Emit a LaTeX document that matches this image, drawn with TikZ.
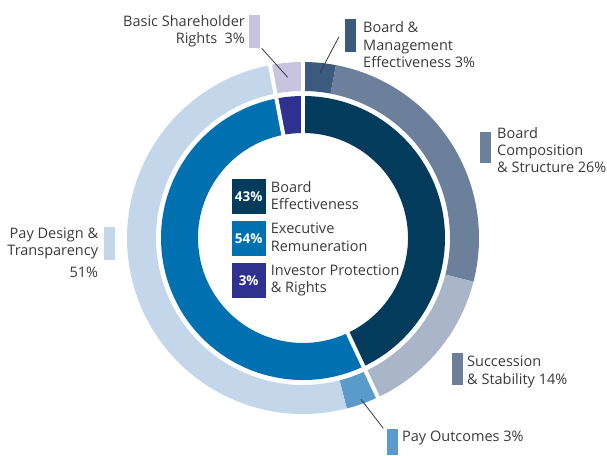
\documentclass[tikz,border=0pt]{standalone}
\usepackage{fontspec}
\setmainfont{Open Sans}
\definecolor{cBM}{HTML}{3B5A7D}
\definecolor{cBC}{HTML}{6C809C}
\definecolor{cSS}{HTML}{AAB5C8}
\definecolor{cPO}{HTML}{5B9BCC}
\definecolor{cPD}{HTML}{C4D7EA}
\definecolor{cBS}{HTML}{C8C4E0}
\definecolor{cIB}{HTML}{023B5C}
\definecolor{cIE}{HTML}{0070B0}
\definecolor{cII}{HTML}{2F3190}
\definecolor{txt}{HTML}{3A3A3A}
\newcommand\ringseg[5]{\fill[#1] (#2:#4) arc[start angle=#2, end angle=#3, radius=#4] -- (#3:#5) arc[start angle=#3, end angle=#2, radius=#5] -- cycle;}
\tikzset{
  lbl/.style={text=txt, font=\fontsize{14.5}{17.5}\selectfont, inner sep=0pt},
  swatch/.style={inner sep=0pt, minimum width=11pt},
  pbox/.style={inner sep=0pt, minimum width=34pt, minimum height=35pt, text=white, font=\bfseries\fontsize{13.5}{16}\selectfont},
  leader/.style={draw=txt, line width=0.8pt},
  gap/.style={draw=white, line width=4pt}
}
\begin{document}
\begin{tikzpicture}[x=1pt,y=1pt]
\useasboundingbox (-303,-217) rectangle (304,238);
% outer ring
\ringseg{cBM}{90}{79.2}{176}{147}
\ringseg{cBC}{79.2}{-14.4}{176}{147}
\ringseg{cSS}{-14.4}{-64.8}{176}{147}
\ringseg{cPO}{-64.8}{-75.6}{176}{147}
\ringseg{cPD}{-75.6}{-259.2}{176}{147}
\ringseg{cBS}{-259.2}{-270}{176}{147}
% inner ring
\ringseg{cIB}{90}{-64.8}{142}{105}
\ringseg{cIE}{-64.8}{-259.2}{142}{105}
\ringseg{cII}{-259.2}{-270}{142}{105}
% gaps
\draw[gap] (90:100) -- (90:180);
\draw[gap] (-64.8:100) -- (-64.8:180);
\draw[gap] (100.8:100) -- (100.8:180);
% centre legend
\node[pbox, fill=cIB] (b1) at (-54.3,41.2) {43\%};
\node[pbox, fill=cIE] (b2) at (-54.3,-0.35) {54\%};
\node[pbox, fill=cII] (b3) at (-54.3,-42.35) {3\%};
\node[lbl, anchor=base west, align=left] (t1) at (-32.3,28.5) {Board\\Effectiveness};
\node[lbl, anchor=base west, align=left] (t2) at (-32.3,-13.2) {Executive\\Remuneration};
\node[lbl, anchor=base west, align=left] (t3) at (-32.3,-54.7) {Investor Protection\\\& Rights};
% outer labels
\node[swatch, fill=cBS, minimum height=32.7pt] (sBS) at (-48.5,206.65) {};
\node[lbl, anchor=base east, align=right] (lBS) at (-58,194) {Basic Shareholder\\Rights\enspace 3\%};
\node[swatch, fill=cBM, minimum height=32.7pt] (sBM) at (47.5,202.65) {};
\node[lbl, anchor=base west, align=left] (lBM) at (60,170) {Board \&\\Management\\Effectiveness 3\%};
\node[swatch, fill=cBC, minimum height=31.6pt] (sBC) at (182.5,90.5) {};
\node[lbl, anchor=base west, align=left] (lBC) at (194,65) {Board\\Composition\\\& Structure 26\%};
\node[swatch, fill=cBC, minimum height=32.3pt] (sSS) at (154.5,-130.85) {};
\node[lbl, anchor=base west, align=left] (lSS) at (164,-146) {Succession\\\& Stability 14\%};
\node[swatch, fill=cPO, minimum height=26pt] (sPO) at (89.2,-204) {};
\node[lbl, anchor=base west] (lPO) at (99,-203.7) {Pay Outcomes 3\%};
\node[swatch, fill=cPD, minimum height=33.3pt] (sPD) at (-193.5,-5.35) {};
\node[lbl, anchor=base east, align=right] (lPD) at (-204.7,-39) {Pay Design \&\\Transparency\\[4pt]51\%};
% leaders
\coordinate (aBS) at (-41.3,189.7);
\coordinate (eBS) at (-15.3,160.7);
\coordinate (aBM) at (36,201.3);
\coordinate (eBM) at (17,165.3);
\coordinate (aPO) at (80.3,-190.3);
\coordinate (ePO) at (58,-161.3);
\draw[leader] (aBS) -- (eBS);
\draw[leader] (aBM) -- (eBM);
\draw[leader] (aPO) -- (ePO);
\end{tikzpicture}
\end{document}
